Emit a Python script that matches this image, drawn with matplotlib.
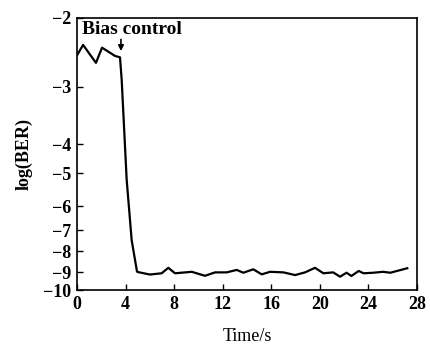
import matplotlib
matplotlib.use("Agg")
import matplotlib.pyplot as plt
import numpy as np

# data
time_s = [0.0, 0.5, 1.56, 2.06, 3.13, 3.54, 3.68, 4.09, 4.5, 4.94, 5.0, 6.0, 6.97, 7.52,
          8.07, 9.45, 10.54, 11.37, 12.33, 13.15, 13.7, 14.52, 15.21, 15.9, 17.0, 17.96,
          18.78, 19.6, 20.29, 21.1, 21.66, 22.2, 22.6, 23.2, 23.6, 24.4, 25.2, 25.8, 27.2]
log_ber = [-2.54, -2.39, -2.65, -2.43, -2.55, -2.57, -2.9, -5.21, -7.48, -8.98, -9.0, -9.14,
           -9.07, -8.80, -9.07, -8.99, -9.21, -9.02, -9.02, -8.90, -9.04, -8.87, -9.13,
           -8.99, -9.02, -9.17, -9.02, -8.80, -9.07, -9.02, -9.26, -9.04, -9.22, -8.95,
           -9.07, -9.04, -8.99, -9.04, -8.82]

# the y axis of the original is not linear, tick spacing taken from the picture
ytick_vals = [-10, -9, -8, -7, -6, -5, -4, -3, -2]
ytick_pos = [0, 18, 39, 60, 84, 117, 146, 203, 272]
xticks = [0, 4, 8, 12, 16, 20, 24, 28]


def fwd(v):
    return np.interp(v, ytick_vals, ytick_pos)


def inv(p):
    return np.interp(p, ytick_pos, ytick_vals)


plt.rcParams["font.family"] = "Liberation Serif"
plt.rcParams["font.weight"] = "bold"

fig = plt.figure(figsize=(4.31, 3.46), dpi=100)
ax = fig.add_axes([0.1787, 0.1618, 0.7888, 0.7862])

ax.plot(time_s, log_ber, color="black", lw=1.6)

ax.set_yscale("function", functions=(fwd, inv))
ax.set_ylim(-10, -2)
ax.set_xlim(0, 28)
ax.set_yticks(ytick_vals)
ax.set_yticklabels([f"\u2212{abs(v)}" for v in ytick_vals])
ax.set_xticks(xticks)
ax.minorticks_off()
ax.tick_params(direction="in", length=4, width=1, labelsize=13, pad=4)

for sp in ax.spines.values():
    sp.set_linewidth(1.2)

ax.set_xlabel("Time/s", fontsize=13, fontweight="normal", labelpad=11)
ax.set_ylabel("log(BER)", fontsize=13, fontweight="bold", labelpad=8)

ax.annotate("", xy=(3.62, -2.52), xytext=(3.62, -2.27),
            arrowprops=dict(arrowstyle="-|>", color="black", lw=1.2, mutation_scale=8))
ax.text(0.45, -2.16, "Bias control", fontsize=14, fontweight="bold", va="center")

fig.savefig("out.png", dpi=100)
